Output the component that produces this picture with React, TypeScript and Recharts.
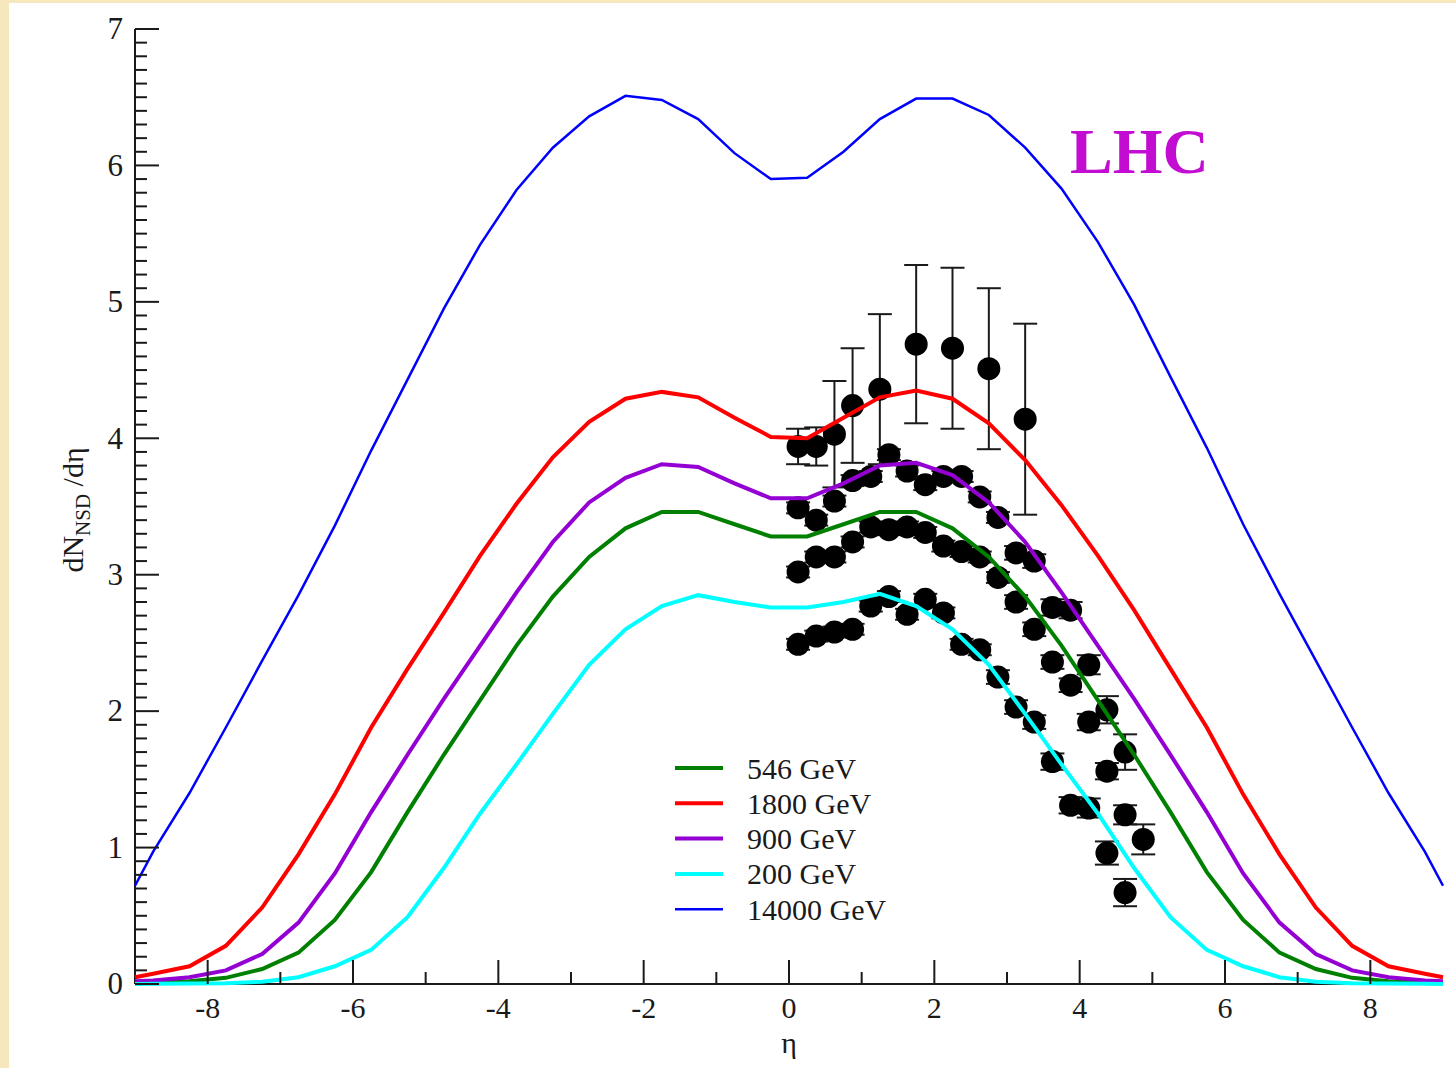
import React from 'react';
import { ComposedChart, Line, Scatter, XAxis, YAxis, ErrorBar } from 'recharts';

// pseudorapidity grid of the model curves
const etaGrid = [
  -9, -8.75, -8.25, -7.75, -7.25, -6.75, -6.25, -5.75, -5.25, -4.75, -4.25, -3.75, -3.25,
  -2.75, -2.25, -1.75, -1.25, -0.75, -0.25, 0.25, 0.75, 1.25, 1.75, 2.25, 2.75, 3.25,
  3.75, 4.25, 4.75, 5.25, 5.75, 6.25, 6.75, 7.25, 7.75, 8.25, 8.75, 9,
];

const curve546 = [
  0.005, 0.01, 0.02, 0.045, 0.11, 0.23, 0.47, 0.82, 1.26, 1.68, 2.08, 2.48, 2.84, 3.13, 3.34,
  3.46, 3.46, 3.37, 3.28, 3.28, 3.37, 3.46, 3.46, 3.34, 3.13, 2.84, 2.48, 2.08, 1.68, 1.26,
  0.82, 0.47, 0.23, 0.11, 0.045, 0.02, 0.01, 0.005,
];
const curve1800 = [
  0.05, 0.075, 0.13, 0.28, 0.56, 0.95, 1.39, 1.88, 2.31, 2.72, 3.14, 3.52, 3.86, 4.12, 4.29,
  4.34, 4.3, 4.15, 4.01, 4.0, 4.15, 4.3, 4.35, 4.29, 4.11, 3.84, 3.51, 3.14, 2.74, 2.31,
  1.88, 1.39, 0.95, 0.56, 0.28, 0.13, 0.075, 0.05,
];
const curve900 = [
  0.02, 0.025, 0.05, 0.1, 0.22, 0.45, 0.81, 1.26, 1.68, 2.09, 2.48, 2.87, 3.24, 3.53, 3.71,
  3.81, 3.79, 3.67, 3.56, 3.56, 3.67, 3.8, 3.82, 3.73, 3.53, 3.24, 2.87, 2.48, 2.09, 1.68,
  1.26, 0.81, 0.45, 0.22, 0.1, 0.05, 0.025, 0.02,
];
const curve200 = [
  0, 0.001, 0.003, 0.005, 0.017, 0.05, 0.13, 0.25, 0.49, 0.85, 1.25, 1.61, 1.98, 2.34, 2.6,
  2.77, 2.85, 2.8, 2.76, 2.76, 2.8, 2.86, 2.77, 2.6, 2.34, 1.98, 1.61, 1.25, 0.85, 0.49,
  0.25, 0.13, 0.05, 0.017, 0.005, 0.003, 0.001, 0,
];
const curve14000 = [
  0.72, 0.97, 1.4, 1.88, 2.37, 2.85, 3.36, 3.91, 4.43, 4.95, 5.42, 5.82, 6.13, 6.36, 6.51,
  6.48, 6.34, 6.09, 5.9, 5.91, 6.1, 6.34, 6.49, 6.49, 6.37, 6.13, 5.83, 5.44, 4.98, 4.45,
  3.93, 3.37, 2.86, 2.37, 1.88, 1.4, 0.97, 0.72,
];

// measured points
const cdfEta = [0.125, 0.375, 0.625, 0.875, 1.25, 1.75, 2.25, 2.75, 3.25];
const cdf1800 = [3.94, 3.94, 4.03, 4.24, 4.36, 4.69, 4.66, 4.51, 4.14];
const cdfErr = [0.13, 0.14, 0.39, 0.42, 0.55, 0.58, 0.59, 0.59, 0.7];

const ua5Eta = [
  0.125, 0.375, 0.625, 0.875, 1.125, 1.375, 1.625, 1.875, 2.125, 2.375, 2.625, 2.875, 3.125,
  3.375, 3.625, 3.875, 4.125, 4.375, 4.625, 4.875,
];
const ua5_900 = [
  3.49, 3.4, 3.54, 3.69, 3.72, 3.88, 3.76, 3.66, 3.72, 3.72, 3.57, 3.42, 3.16, 3.1, 2.76,
  2.74, 2.34, 2.01, 1.7, 1.06,
];
const ua5_900Err = [
  0.04, 0.04, 0.04, 0.04, 0.04, 0.04, 0.04, 0.04, 0.04, 0.04, 0.04, 0.04, 0.05, 0.05, 0.06,
  0.06, 0.07, 0.1, 0.13, 0.11,
];
const ua5_546 = [
  3.02, 3.13, 3.13, 3.24, 3.35, 3.33, 3.35, 3.31, 3.21, 3.17, 3.13, 2.98, 2.8, 2.6, 2.36,
  2.19, 1.92, 1.56, 1.24,
];
const ua5_546Err = [
  0.04, 0.04, 0.04, 0.04, 0.04, 0.04, 0.04, 0.04, 0.04, 0.04, 0.04, 0.04, 0.05, 0.05, 0.05,
  0.05, 0.06, 0.06, 0.07,
];
const ua5_200 = [
  2.49, 2.55, 2.58, 2.6, 2.77, 2.84, 2.71, 2.82, 2.72, 2.49, 2.45, 2.25, 2.03, 1.92, 1.63,
  1.31, 1.29, 0.96, 0.67,
];
const ua5_200Err = [
  0.04, 0.04, 0.04, 0.04, 0.04, 0.04, 0.04, 0.04, 0.04, 0.04, 0.04, 0.05, 0.05, 0.05, 0.06,
  0.06, 0.07, 0.085, 0.1,
];

const xTicks = [-8, -7, -6, -5, -4, -3, -2, -1, 0, 1, 2, 3, 4, 5, 6, 7, 8];
const xLabelTicks = [-8, -6, -4, -2, 0, 2, 4, 6, 8];
const yLabelTicks = [0, 1, 2, 3, 4, 5, 6, 7];
const yTicks = Array.from({ length: 71 }, (_, i) => i / 10);

const series = [
  { name: '546 GeV', values: curve546, color: '#008000', width: 4 },
  { name: '1800 GeV', values: curve1800, color: '#ff0000', width: 4 },
  { name: '900 GeV', values: curve900, color: '#9400d3', width: 4 },
  { name: '200 GeV', values: curve200, color: '#00ffff', width: 4 },
  { name: '14000 GeV', values: curve14000, color: '#0000ff', width: 2.5 },
];

const pointSets = [
  { eta: cdfEta, values: cdf1800, err: cdfErr },
  { eta: ua5Eta, values: ua5_900, err: ua5_900Err },
  { eta: ua5Eta, values: ua5_546, err: ua5_546Err },
  { eta: ua5Eta, values: ua5_200, err: ua5_200Err },
];

const FONT = "'Liberation Serif', 'Times New Roman', serif";
const INK = '#1a1a1a';
const textStyle = { fontFamily: FONT };

const isWhole = (v: number) => Math.abs(v - Math.round(v)) < 1e-9;

const BottomTick = (p: any) => {
  const v = p.payload.value;
  const major = xLabelTicks.includes(v);
  return (
    <g>
      <line x1={p.x} x2={p.x} y1={p.y} y2={p.y - (major ? 24 : 12)} stroke={INK} strokeWidth={2} />
      {major && (
        <text x={p.x} y={p.y + 34} textAnchor="middle" fontSize={30} style={textStyle} fill={INK}>
          {String(v)}
        </text>
      )}
    </g>
  );
};

const TopTick = (p: any) => {
  const major = xLabelTicks.includes(p.payload.value);
  return <line x1={p.x} x2={p.x} y1={p.y} y2={p.y + (major ? 24 : 12)} stroke={INK} strokeWidth={2} />;
};

const LeftTick = (p: any) => {
  const v = p.payload.value;
  const major = isWhole(v);
  return (
    <g>
      <line x1={p.x} x2={p.x + (major ? 24 : 12)} y1={p.y} y2={p.y} stroke={INK} strokeWidth={2} />
      {major && yLabelTicks.includes(Math.round(v)) && (
        <text x={p.x - 12} y={p.y} dy="0.33em" textAnchor="end" fontSize={31} style={textStyle} fill={INK}>
          {String(Math.round(v))}
        </text>
      )}
    </g>
  );
};

const RightTick = (p: any) => {
  const major = isWhole(p.payload.value);
  return <line x1={p.x} x2={p.x - (major ? 24 : 12)} y1={p.y} y2={p.y} stroke={INK} strokeWidth={2} />;
};

const Dot = (p: any) => <circle cx={p.cx} cy={p.cy} r={11.5} fill="#000" />;

export default function App() {
  const lines = series.map((s) => ({
    ...s,
    data: etaGrid.map((eta, i) => ({ eta, v: s.values[i] })),
  }));
  const points = pointSets.map((s) => s.values.map((v, i) => ({ eta: s.eta[i], v, err: s.err[i] })));

  return (
    <div style={{ position: 'absolute', left: 0, top: 0, width: 1456, height: 1068, background: '#f6e7bd' }}>
      <div style={{ position: 'absolute', left: 9, top: 3, width: 1447, height: 1065, background: '#fff' }} />
      <div style={{ position: 'absolute', left: 0, top: 0 }}>
        <ComposedChart width={1456} height={1068} margin={{ top: 29, right: 13, bottom: 0, left: 0 }}>
          <XAxis
            xAxisId="b"
            dataKey="eta"
            type="number"
            domain={[-9, 9]}
            ticks={xTicks}
            interval={0}
            height={84}
            tickSize={0}
            tickMargin={0}
            tick={<BottomTick />}
            axisLine={{ stroke: INK, strokeWidth: 2 }}
          />
          <XAxis
            xAxisId="t"
            orientation="top"
            dataKey="eta"
            type="number"
            domain={[-9, 9]}
            ticks={xTicks}
            interval={0}
            height={0}
            tickSize={0}
            tickMargin={0}
            tick={<TopTick />}
            axisLine={{ stroke: INK, strokeWidth: 2 }}
          />
          <YAxis
            yAxisId="l"
            type="number"
            domain={[0, 7]}
            ticks={yTicks}
            interval={0}
            width={135}
            tickSize={0}
            tickMargin={0}
            tick={<LeftTick />}
            axisLine={{ stroke: INK, strokeWidth: 2 }}
          />
          <YAxis
            yAxisId="r"
            orientation="right"
            type="number"
            domain={[0, 7]}
            ticks={yTicks}
            interval={0}
            width={0}
            tickSize={0}
            tickMargin={0}
            tick={<RightTick />}
            axisLine={{ stroke: INK, strokeWidth: 2 }}
          />
          {points.map((d, k) => (
            <Scatter
              key={'p' + k}
              xAxisId="b"
              yAxisId="l"
              data={d}
              dataKey="v"
              shape={<Dot />}
              isAnimationActive={false}
            >
              <ErrorBar dataKey="err" direction="y" width={12} stroke={INK} strokeWidth={2} isAnimationActive={false} />
            </Scatter>
          ))}
          {lines.map((s) => (
            <Line
              key={s.name}
              xAxisId="b"
              yAxisId="l"
              data={s.data}
              dataKey="v"
              name={s.name}
              type="linear"
              stroke={s.color}
              strokeWidth={s.width}
              dot={false}
              activeDot={false}
              isAnimationActive={false}
              zIndex={700}
            />
          ))}
        </ComposedChart>
      </div>
      <svg
        width={1456}
        height={1068}
        style={{ position: 'absolute', left: 0, top: 0, pointerEvents: 'none', fontFamily: FONT }}
      >
        <text x={1070} y={173} fontSize={64} fontWeight="bold" fill="#c20cd2">
          LHC
        </text>
        <text x={789} y={1053} fontSize={30} textAnchor="middle" fill={INK}>
          η
        </text>
        <text transform="translate(83,510) rotate(-90)" fontSize={30} textAnchor="middle" fill={INK}>
          dN
          <tspan fontSize={21} dy={7}>
            NSD
          </tspan>
          <tspan dy={-7}>{'\u00a0/dη'}</tspan>
        </text>
        {series.map((s, i) => (
          <g key={s.name}>
            <line x1={675} x2={723} y1={768 + i * 35.3} y2={768 + i * 35.3} stroke={s.color} strokeWidth={s.width} />
            <text x={747} y={768 + i * 35.3} dy="0.35em" fontSize={30} fill={INK}>
              {s.name}
            </text>
          </g>
        ))}
      </svg>
    </div>
  );
}
